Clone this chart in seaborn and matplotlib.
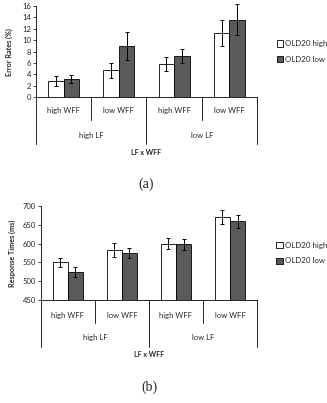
import matplotlib
matplotlib.use("Agg")
import matplotlib.pyplot as plt
import seaborn as sns
import pandas as pd

# design cells: LF x WFF
lf_levels = ["high LF", "low LF"]
wff_levels = ["high WFF", "low WFF", "high WFF", "low WFF"]
conditions = ["OLD20 high", "OLD20 low"]

# (a) error rates (%)
err_high = [2.8, 4.7, 5.8, 11.3]
err_low = [3.1, 9.0, 7.2, 13.6]
err_high_ci = [0.9, 1.3, 1.2, 2.3]
err_low_ci = [0.7, 2.4, 1.2, 2.7]

# (b) response times (ms)
rt_high = [551, 583, 600, 670]
rt_low = [524, 575, 598, 659]
rt_high_ci = [12, 18, 14, 19]
rt_low_ci = [13, 14, 15, 16]

sns.set_style("ticks")
plt.rcParams["font.family"] = ["Lato", "DejaVu Sans"]

DPI = 100
fig = plt.figure(figsize=(3.27, 4.03), dpi=DPI)


def px2ax(ax, px):
    # pixel distance -> axes fraction (vertical)
    return px / (ax.get_position().height * fig.get_figheight() * DPI)


def draw_panel(rect, high, low, high_ci, low_ci, ylim, step, ylabel, tag,
               row1_px, labelpad):
    ax = fig.add_axes(rect)
    cells = [f"{i}" for i in range(len(high))]
    df = pd.DataFrame({
        "cell": cells * 2,
        "cond": [conditions[0]] * len(high) + [conditions[1]] * len(low),
        "value": high + low,
    })
    sns.barplot(data=df, x="cell", y="value", hue="cond", hue_order=conditions,
                palette=["white", "#5a5a5a"], saturation=1, edgecolor="black",
                linewidth=0.6, width=0.56, errorbar=None, ax=ax)

    # error bars
    for cont, ci in zip(ax.containers, [high_ci, low_ci]):
        xs = [p.get_x() + p.get_width() / 2 for p in cont]
        ys = [p.get_height() for p in cont]
        eb = ax.errorbar(xs, ys, yerr=ci, fmt="none", ecolor="black",
                         elinewidth=0.7, capsize=1.6, capthick=0.7)
        for art in eb.lines[1] + eb.lines[2]:
            art.set_clip_on(False)

    ax.set_ylim(*ylim)
    ax.set_yticks(range(ylim[0], ylim[1] + 1, step))
    ax.set_xlim(-0.5, len(high) - 0.5)
    ax.set_xticks([])
    ax.set_xlabel("")
    ax.set_ylabel(ylabel, fontsize=5.2, fontweight="bold", labelpad=labelpad)
    ax.tick_params(axis="y", labelsize=5.5, length=2, width=0.6, pad=1.5)
    sns.despine(ax=ax)
    for s in ["left", "bottom"]:
        ax.spines[s].set_linewidth(0.6)
        ax.spines[s].set_color("black")

    # hierarchical category axis
    tr = ax.get_xaxis_transform()
    for i, w in enumerate(wff_levels):
        ax.text(i, -px2ax(ax, row1_px), w, transform=tr, ha="center",
                va="center", fontsize=5.5)
    for j, l in enumerate(lf_levels):
        ax.text(2 * j + 0.5, -px2ax(ax, 38), l, transform=tr, ha="center",
                va="center", fontsize=5.5)
    for x in [0.5, 2.5]:
        ax.plot([x, x], [0, -px2ax(ax, 23)], transform=tr, color="black",
                lw=0.6, clip_on=False)
    for x in [-0.5, 1.5, 3.5]:
        ax.plot([x, x], [0, -px2ax(ax, 47)], transform=tr, color="black",
                lw=0.6, clip_on=False)
    ax.text(1.5, -px2ax(ax, 55), "LF x WFF", transform=tr, ha="center",
            va="center", fontsize=5, fontweight="bold")
    ax.text(1.5, -px2ax(ax, 87), tag, transform=tr, ha="center",
            va="center", fontsize=10, family="Liberation Serif")

    ax.legend(frameon=False, loc="center left", bbox_to_anchor=(1.09, 0.5),
              borderaxespad=0, borderpad=0, handlelength=0.8, handleheight=0.8,
              handletextpad=0.25, labelspacing=1.1, fontsize=5.7)
    return ax


draw_panel([0.110, 0.759, 0.676, 0.226], err_high, err_low, err_high_ci,
           err_low_ci, (0, 16), 2, "Error Rates (%)", "(a)", 13, 7)
draw_panel([0.125, 0.2556, 0.661, 0.233], rt_high, rt_low, rt_high_ci,
           rt_low_ci, (450, 700), 50, "Response Times (ms)", "(b)", 16, 5)

fig.savefig("out.png", dpi=DPI, facecolor="white")
